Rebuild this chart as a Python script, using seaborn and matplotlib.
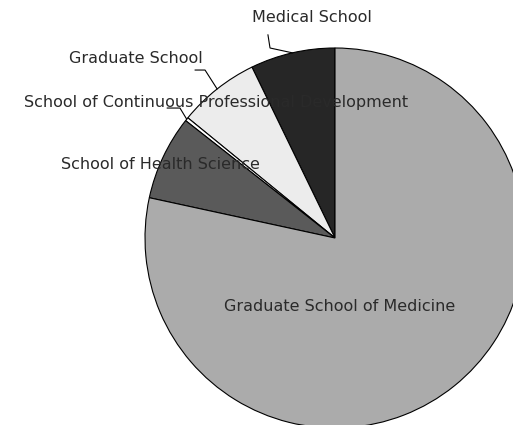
import matplotlib
matplotlib.use("Agg")
import matplotlib.pyplot as plt
import numpy as np
import seaborn as sns

# share of students per school (percent)
schools = [
    "Medical School",
    "Graduate School",
    "School of Continuous Professional Development",
    "School of Health Science",
    "Graduate School of Medicine",
]
shares = [7.2, 6.9, 0.3, 7.2, 78.4]
colors = ["#262626", "#ececec", "#ffffff", "#5a5a5a", "#ababab"]

# label placement (data units, pie radius = 1) and leader elbows
label_pos = [(-0.12, 1.163), (-1.047, 0.947), (-0.626, 0.711), (-0.921, 0.389), (0.026, -0.363)]
leader_pts = [
    [(-0.342, 1.0), (-0.353, 1.07)],
    [(-0.684, 0.884), (-0.737, 0.884)],
    [(-0.816, 0.684), (-0.884, 0.684)],
    None,
    None,
]

sns.set_theme(style="white")
plt.rcParams["font.family"] = ["DejaVu Sans"]

fig = plt.figure(figsize=(5.13, 4.25), dpi=100)
ax = fig.add_axes([0, 0, 1, 1])
wedges, _ = ax.pie(
    shares,
    colors=colors,
    startangle=90,
    counterclock=True,
    radius=1.0,
    wedgeprops=dict(edgecolor="black", linewidth=0.8),
)

for w, name, pos, pts in zip(wedges, schools, label_pos, leader_pts):
    ax.text(pos[0], pos[1], name, ha="center", va="center", fontsize=11.5, color="#2a2a2a")
    if pts is not None:
        mid = np.deg2rad((w.theta1 + w.theta2) / 2)
        xs = [np.cos(mid)] + [p[0] for p in pts]
        ys = [np.sin(mid)] + [p[1] for p in pts]
        ax.plot(xs, ys, color="black", linewidth=0.8)

ax.set_xlim(-335 / 190, (513 - 335) / 190)
ax.set_ylim((238 - 425) / 190, 238 / 190)
ax.set_aspect("auto")
ax.axis("off")

fig.savefig("out.png", dpi=100)
